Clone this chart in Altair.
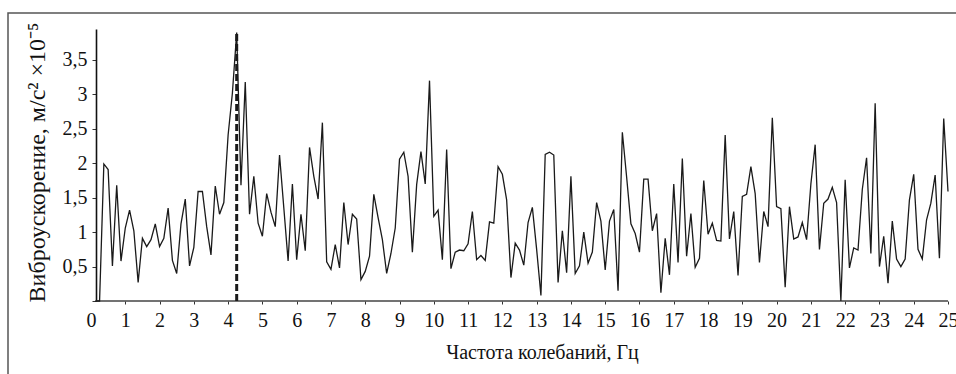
import altair as alt
import pandas as pd

freq_step = 0.125
accel = [
    0.00, 0.00, 1.99, 1.91, 0.51, 1.68, 0.58, 1.06, 1.32, 1.02,
    0.27, 0.91, 0.79, 0.89, 1.12, 0.79, 0.91, 1.35, 0.59, 0.40,
    1.12, 1.48, 0.51, 0.78, 1.59, 1.59, 1.08, 0.67, 1.67, 1.26,
    1.43, 2.41, 3.02, 3.90, 1.68, 3.18, 1.26, 1.81, 1.13, 0.94,
    1.56, 1.29, 1.08, 2.12, 1.35, 0.58, 1.70, 0.60, 1.26, 0.73,
    2.23, 1.81, 1.48, 2.59, 0.57, 0.46, 0.82, 0.48, 1.43, 0.82,
    1.26, 1.19, 0.31, 0.43, 0.65, 1.55, 1.21, 0.89, 0.40, 0.69,
    1.06, 2.06, 2.16, 1.81, 0.71, 1.69, 2.17, 1.70, 3.20, 1.23,
    1.32, 0.60, 2.20, 0.47, 0.71, 0.74, 0.73, 0.83, 1.30, 0.60,
    0.66, 0.59, 1.15, 1.13, 1.95, 1.84, 1.47, 0.34, 0.84, 0.74,
    0.52, 1.14, 1.36, 0.75, 0.08, 2.13, 2.16, 2.12, 0.27, 1.02,
    0.41, 1.81, 0.40, 0.51, 1.00, 0.55, 0.71, 1.43, 1.16, 0.45,
    1.16, 1.33, 0.15, 2.45, 1.80, 1.12, 0.98, 0.71, 1.77, 1.77,
    1.02, 1.27, 0.12, 0.91, 0.38, 1.70, 0.56, 2.07, 0.65, 1.27,
    0.49, 0.62, 1.75, 0.97, 1.13, 0.88, 0.87, 2.41, 0.90, 1.30,
    0.37, 1.52, 1.55, 1.95, 1.56, 0.56, 1.30, 1.08, 2.66, 1.37,
    1.34, 0.20, 1.37, 0.90, 0.93, 1.14, 0.89, 1.70, 2.27, 0.75,
    1.42, 1.48, 1.65, 1.43, 0.00, 1.76, 0.48, 0.77, 0.74, 1.62,
    2.08, 0.69, 2.87, 0.50, 0.94, 0.26, 1.16, 0.61, 0.50, 0.61,
    1.47, 1.84, 0.75, 0.61, 1.18, 1.42, 1.83, 0.62, 2.65, 1.59,
]
freqs = [round(freq_step * (i + 1), 3) for i in range(len(accel))]

marker_freq = [4.25]
marker_top = [3.9]

x_ticks = list(range(0, 26))
y_ticks = [0, 0.5, 1, 1.5, 2, 2.5, 3, 3.5]

FONT = "Liberation Serif"
W, H = 857, 272

df = pd.DataFrame({"f": freqs, "a": accel})
mk = pd.DataFrame({"f": marker_freq, "a": [0], "top": marker_top})

xscale = alt.Scale(domain=[0, 25], nice=False, zero=False)
yscale = alt.Scale(domain=[0, 3.95], nice=False)

x_axis = alt.Axis(
    values=x_ticks, domain=False,
    tickSize=3,
    tickOpacity={"condition": {"test": "datum.value == 0", "value": 0}, "value": 1},
    labelPadding=6, labelOverlap=False, labelFlush=False,
    title="Частота колебаний, Гц",
    titleX=451, titleY=57, titleAlign="center", titleBaseline="alphabetic",
)
y_axis = alt.Axis(
    values=y_ticks, offset=-5,
    domainColor="#111", domainWidth=1.6,
    tickSize=4, labelOverlap=False, labelFlush=False,
    format=".1~f",
    labelExpr="datum.value == 0 ? '' : replace(datum.label, '.', ',')",
    labelPadding=5,
    title="Виброускорение, м/с² ×10⁻⁵", titleFontSize=24,
    titleAngle=-90, titleX=-52, titleY=133, titleAlign="center",
    titleBaseline="alphabetic",
)

line = alt.Chart(df).mark_line(color="#1a1a1a", strokeWidth=1.3).encode(
    x=alt.X("f:Q", scale=xscale, axis=x_axis),
    y=alt.Y("a:Q", scale=yscale, axis=y_axis),
)

marker = alt.Chart(mk).mark_rule(
    color="#1a1a1a", strokeWidth=3, strokeDash=[7, 3]
).encode(
    x=alt.X("f:Q", scale=xscale, axis=x_axis),
    y=alt.Y("a:Q", scale=yscale, axis=y_axis),
    y2="top:Q",
)

deco = pd.DataFrame({"k": [0]})
xline = alt.Chart(deco).mark_rule(color="#444", strokeWidth=1.5).encode(
    x=alt.value(5), x2=alt.value(W), y=alt.value(H)
)
frame = alt.Chart(deco).mark_rect(
    fillOpacity=0, stroke="#555", strokeWidth=1.5, clip=False
).encode(
    x=alt.value(-83), x2=alt.value(880), y=alt.value(-16), y2=alt.value(360)
)

chart = alt.layer(frame, xline, line, marker).properties(
    width=W, height=H,
    autosize=alt.AutoSizeParams(type="none"),
    padding={"left": 91, "top": 29, "right": 8, "bottom": 73},
    background="white",
).configure_view(stroke=None).configure_axis(
    grid=False,
    labelFont=FONT, labelFontSize=20, labelColor="#111",
    titleFont=FONT, titleFontSize=20, titleFontWeight="normal", titleColor="#111",
    tickColor="#333", tickWidth=1,
)

chart.save("out.html", embed_options={"renderer": "svg", "actions": False})
